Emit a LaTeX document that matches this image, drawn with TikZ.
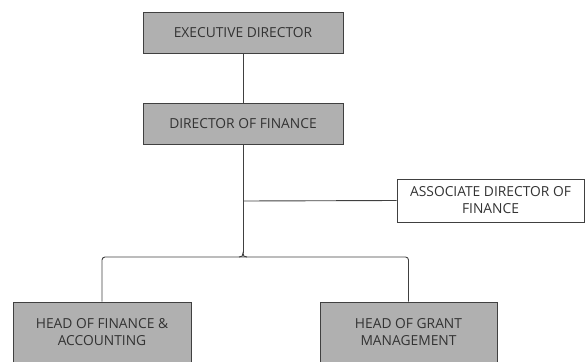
\documentclass[tikz,border=0pt]{standalone}
\usepackage{fontspec}
\setmainfont{Open Sans}
\begin{document}
\begin{tikzpicture}[x=1pt,y=-1pt,
  boxfont/.style={font=\fontsize{13.8}{17}\selectfont},
  greybox/.style={draw=black!75,line width=0.9pt,fill=black!31,text=black!80,align=center,boxfont,inner sep=0pt},
  whitebox/.style={draw=black!75,line width=0.9pt,fill=white,text=black!80,align=center,boxfont,inner sep=0pt},
  conn/.style={draw=black!75,line width=0.9pt}]
\useasboundingbox (0,0) rectangle (585,361);
\node[greybox,minimum width=200pt,minimum height=41pt] (exec) at (243,32.5) {EXECUTIVE DIRECTOR};
\node[greybox,minimum width=200pt,minimum height=41pt] (dof) at (243,123.5) {DIRECTOR OF FINANCE};
\node[whitebox,minimum width=187pt,minimum height=43pt] (assoc) at (490.5,200.5) {ASSOCIATE DIRECTOR OF\\FINANCE};
\node[greybox,minimum width=178pt,minimum height=60pt] (hfa) at (102,332) {HEAD OF FINANCE \&\\ACCOUNTING};
\node[greybox,minimum width=177pt,minimum height=60pt] (hgm) at (408.5,332) {HEAD OF GRANT\\MANAGEMENT};
\coordinate (bus) at (243,257);
\coordinate (tee) at (243,201);
\coordinate (busL) at (239,257);
\coordinate (busR) at (247,257);
\coordinate (busU) at (243,253);
\draw[conn] (exec.south) -- (dof.north);
\draw[conn] (dof.south) -- (busU);
\draw[conn] (busL) .. controls (242,257) and (243,256) .. (busU) .. controls (243,256) and (244,257) .. (busR);
\draw[conn] (tee) -- (assoc.west);
\draw[conn,rounded corners=3pt] (hfa.north) -- (hfa.north |- bus) -- (hgm.north |- bus) -- (hgm.north);
\end{tikzpicture}
\end{document}
